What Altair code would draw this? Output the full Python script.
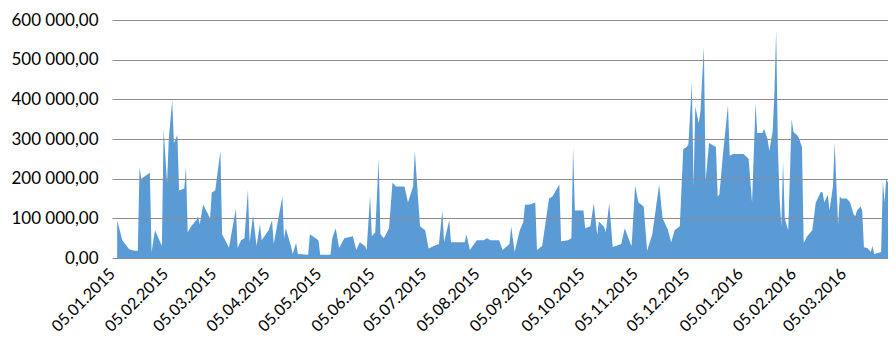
import altair as alt
import pandas as pd

dates = [
    "2015-01-08", "2015-01-11", "2015-01-15", "2015-01-18", "2015-01-20", "2015-01-21", "2015-01-22",
    "2015-01-27", "2015-01-28", "2015-01-30", "2015-02-03", "2015-02-04", "2015-02-06", "2015-02-07",
    "2015-02-09", "2015-02-10", "2015-02-12", "2015-02-13", "2015-02-16", "2015-02-17", "2015-02-18",
    "2015-02-20", "2015-02-23", "2015-02-24", "2015-02-25", "2015-02-27", "2015-03-03", "2015-03-04",
    "2015-03-06", "2015-03-09", "2015-03-10", "2015-03-14", "2015-03-18", "2015-03-19", "2015-03-21",
    "2015-03-23", "2015-03-25", "2015-03-26", "2015-03-28", "2015-03-30", "2015-04-01", "2015-04-02",
    "2015-04-06", "2015-04-08", "2015-04-09", "2015-04-14", "2015-04-15", "2015-04-16", "2015-04-19",
    "2015-04-20", "2015-04-22", "2015-04-23", "2015-04-29", "2015-04-30", "2015-05-05", "2015-05-06",
    "2015-05-12", "2015-05-13", "2015-05-15", "2015-05-17", "2015-05-20", "2015-05-25", "2015-05-27",
    "2015-05-29", "2015-06-01", "2015-06-02", "2015-06-04", "2015-06-05", "2015-06-07", "2015-06-09",
    "2015-06-10", "2015-06-12", "2015-06-15", "2015-06-17", "2015-06-19", "2015-06-24", "2015-06-26",
    "2015-06-29", "2015-06-30", "2015-07-03", "2015-07-06", "2015-07-08", "2015-07-11", "2015-07-14",
    "2015-07-16", "2015-07-17", "2015-07-20", "2015-07-21", "2015-07-29", "2015-07-30", "2015-08-01",
    "2015-08-05", "2015-08-09", "2015-08-11", "2015-08-13", "2015-08-18", "2015-08-20", "2015-08-24",
    "2015-08-25", "2015-08-27", "2015-08-30", "2015-09-01", "2015-09-02", "2015-09-05", "2015-09-08",
    "2015-09-09", "2015-09-12", "2015-09-16", "2015-09-18", "2015-09-22", "2015-09-23", "2015-09-27",
    "2015-09-29", "2015-09-30", "2015-10-01", "2015-10-06", "2015-10-07", "2015-10-10", "2015-10-12",
    "2015-10-14", "2015-10-15", "2015-10-18", "2015-10-19", "2015-10-21", "2015-10-23", "2015-10-28",
    "2015-10-30", "2015-11-02", "2015-11-03", "2015-11-05", "2015-11-07", "2015-11-10", "2015-11-12",
    "2015-11-15", "2015-11-19", "2015-11-21", "2015-11-24", "2015-11-26", "2015-11-28", "2015-12-01",
    "2015-12-03", "2015-12-05", "2015-12-06", "2015-12-08", "2015-12-09", "2015-12-10", "2015-12-12",
    "2015-12-13", "2015-12-15", "2015-12-16", "2015-12-18", "2015-12-22", "2015-12-23", "2015-12-24",
    "2015-12-26", "2015-12-29", "2015-12-30", "2016-01-01", "2016-01-07", "2016-01-10", "2016-01-12",
    "2016-01-14", "2016-01-15", "2016-01-18", "2016-01-19", "2016-01-21", "2016-01-22", "2016-01-24",
    "2016-01-25", "2016-01-26", "2016-01-27", "2016-01-28", "2016-01-29", "2016-01-30", "2016-01-31",
    "2016-02-02", "2016-02-04", "2016-02-05", "2016-02-07", "2016-02-08", "2016-02-10", "2016-02-11",
    "2016-02-13", "2016-02-16", "2016-02-18", "2016-02-21", "2016-02-22", "2016-02-23", "2016-02-25",
    "2016-02-26", "2016-02-28", "2016-02-29", "2016-03-02", "2016-03-03", "2016-03-04", "2016-03-07",
    "2016-03-09", "2016-03-11", "2016-03-12", "2016-03-13", "2016-03-15", "2016-03-16", "2016-03-17",
    "2016-03-19", "2016-03-21", "2016-03-22", "2016-03-23", "2016-03-27", "2016-03-28", "2016-03-29",
    "2016-03-30", "2016-03-31",
]

values = [
    95000, 45000, 22000, 18000, 18000, 230000, 200000,
    215000, 15000, 70000, 30000, 325000, 190000, 300000,
    397000, 290000, 310000, 170000, 175000, 230000, 65000,
    80000, 95000, 105000, 85000, 135000, 100000, 165000,
    170000, 270000, 60000, 26000, 125000, 25000, 45000,
    50000, 172000, 40000, 108000, 30000, 85000, 45000,
    70000, 95000, 35000, 155000, 50000, 75000, 30000,
    10000, 38000, 10000, 8000, 60000, 45000, 8000,
    8000, 50000, 75000, 25000, 50000, 55000, 20000,
    40000, 30000, 20000, 158000, 55000, 65000, 250000,
    60000, 50000, 75000, 190000, 180000, 180000, 140000,
    180000, 270000, 80000, 70000, 24000, 30000, 35000,
    120000, 40000, 95000, 40000, 40000, 60000, 20000,
    45000, 45000, 50000, 45000, 45000, 20000, 35000,
    80000, 15000, 70000, 90000, 134000, 135000, 140000,
    20000, 30000, 150000, 155000, 185000, 42000, 45000,
    50000, 278000, 120000, 120000, 75000, 80000, 138000,
    58000, 92000, 78000, 65000, 138000, 28000, 35000,
    75000, 40000, 30000, 182000, 140000, 130000, 18000,
    60000, 185000, 100000, 72000, 40000, 70000, 80000,
    275000, 280000, 287000, 442000, 179000, 382000, 340000,
    370000, 533000, 194000, 290000, 280000, 155000, 160000,
    258000, 385000, 258000, 262000, 262000, 250000, 140000,
    390000, 315000, 315000, 325000, 300000, 270000, 320000,
    420000, 575000, 280000, 150000, 80000, 246000, 100000,
    70000, 350000, 318000, 310000, 305000, 280000, 38000,
    55000, 70000, 139000, 167000, 165000, 140000, 160000,
    120000, 180000, 290000, 85000, 155000, 150000, 150000,
    140000, 110000, 105000, 120000, 130000, 120000, 27000,
    25000, 15000, 30000, 10000, 15000, 194000, 140000,
    200000, 190000,
]

tick_dates = [
    "2015-01-05", "2015-02-05", "2015-03-05", "2015-04-05", "2015-05-05",
    "2015-06-05", "2015-07-05", "2015-08-05", "2015-09-05", "2015-10-05",
    "2015-11-05", "2015-12-05", "2016-01-05", "2016-02-05", "2016-03-05",
]
domain_dates = ["2015-01-05", "2016-03-31"]
y_ticks = [0, 100000, 200000, 300000, 400000, 500000, 600000]


def ms(s):
    return int(pd.Timestamp(s, tz="UTC").value // 10**6)


df = pd.DataFrame({"date": dates, "value": values})

FONT = "Lato"

chart = (
    alt.Chart(df)
    .mark_area(color="#5B9BD5", interpolate="linear")
    .encode(
        x=alt.X(
            "date:T",
            scale=alt.Scale(domain=[ms(d) for d in domain_dates]),
            axis=alt.Axis(
                values=[ms(d) for d in tick_dates],
                labelExpr="utcFormat(datum.value, '%d.%m.%Y')",
                labelAngle=-45,
                labelAlign="right",
                labelBaseline="middle",
                labelPadding=13,
                labelFlush=False,
                labelOverlap=False,
                labelFont=FONT,
                labelFontSize=16,
                labelColor="#000000",
                ticks=False,
                tickSize=0,
                grid=False,
                domainColor="#d9d9d9",
                title=None,
            ),
        ),
        y=alt.Y(
            "value:Q",
            scale=alt.Scale(domain=[0, 600000], nice=False),
            axis=alt.Axis(
                values=y_ticks,
                labelExpr="replace(replace(format(datum.value, ',.2f'), ',', ' '), '.', ',')",
                labelPadding=14,
                labelFont=FONT,
                labelFontSize=17,
                labelColor="#000000",
                ticks=False,
                tickSize=0,
                domain=False,
                grid=True,
                gridColor="#8c8c8c",
                gridWidth=1,
                zindex=1,
                title=None,
            ),
        ),
    )
    .properties(
        width=776,
        height=238,
        autosize=alt.AutoSizeParams(type="none"),
        padding={"left": 104, "top": 12, "right": 0, "bottom": 78},
        background="white",
    )
    .configure_view(stroke=None)
)

chart.save("out.html", embed_options={"renderer": "svg", "actions": False})
